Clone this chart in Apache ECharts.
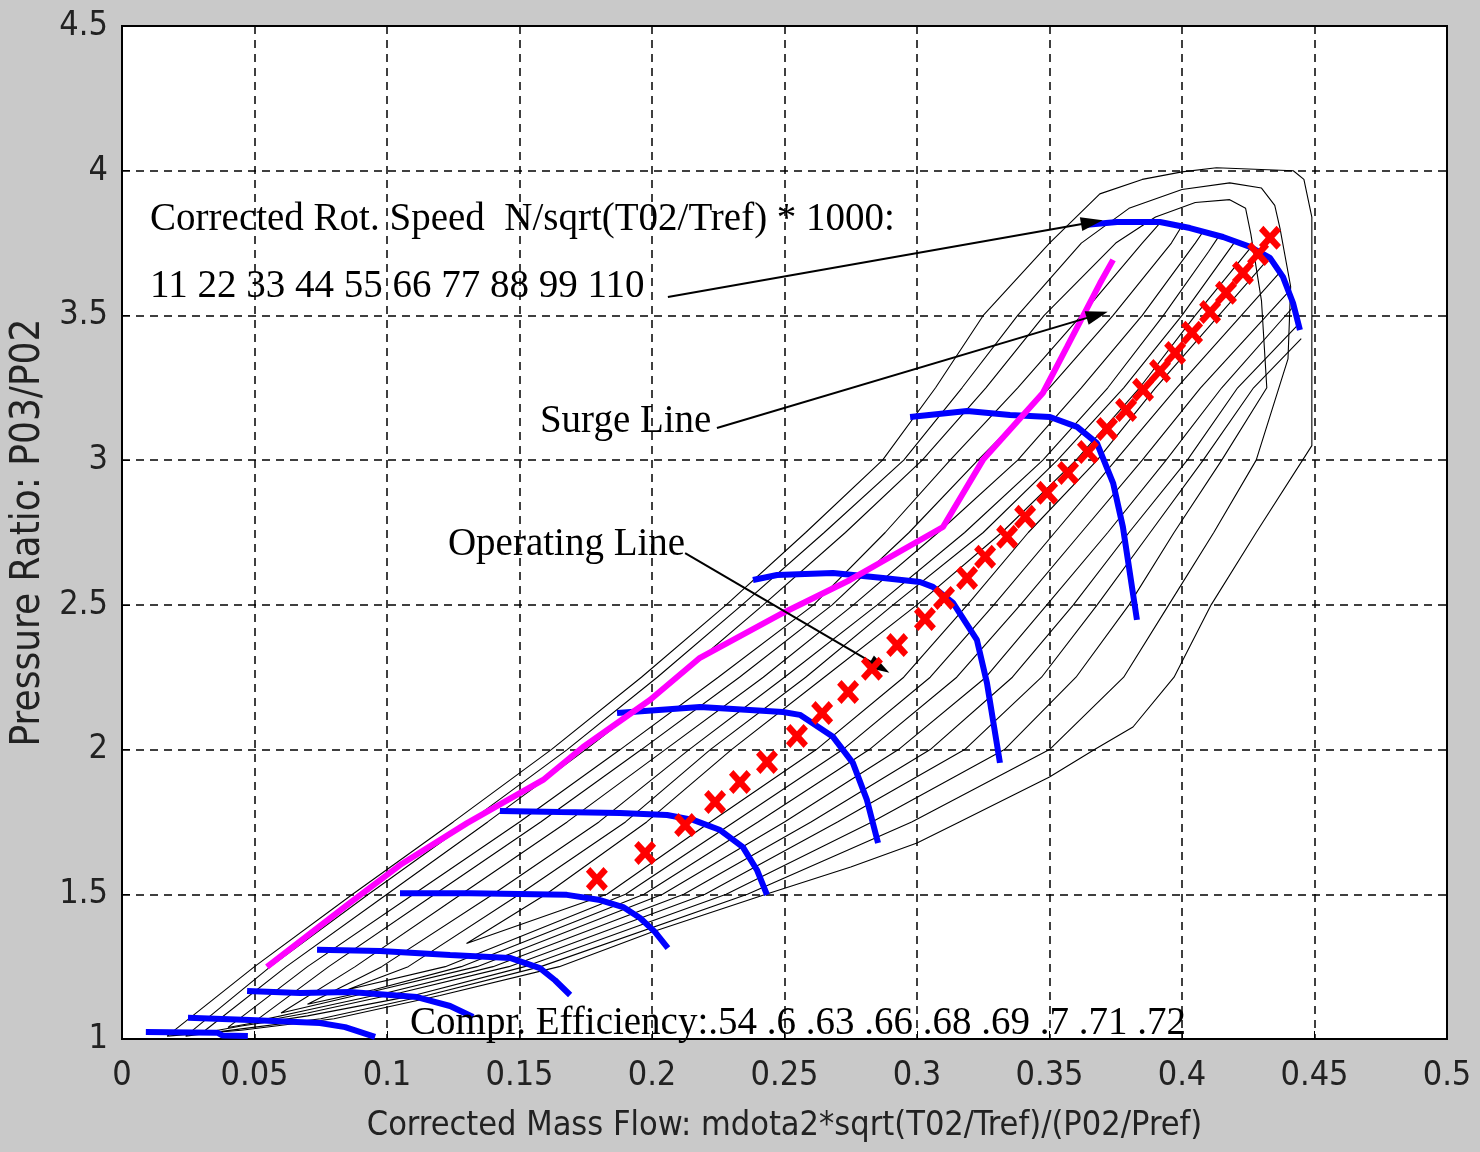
<!DOCTYPE html>
<html><head><meta charset="utf-8">
<script src="https://cdn.jsdelivr.net/npm/echarts/dist/echarts.min.js"></script>
<style>html,body{margin:0;padding:0;background:#c9c9c9;}#c{width:1480px;height:1152px;}</style>
</head><body><div id="c"></div>
<script>
// ---- axis ticks ----
const xTickLabels = ['0','0.05','0.1','0.15','0.2','0.25','0.3','0.35','0.4','0.45','0.5'];
const yTickLabels = ['1','1.5','2','2.5','3','3.5','4','4.5'];

// ---- constant-speed lines (blue) ----
const speed11  = [[0.009,1.024],[0.036,1.022],[0.038,1.012],[0.0475,1.01]];
const speed22  = [[0.0249,1.073],[0.0483,1.066],[0.0747,1.055],[0.0842,1.041],[0.0955,1.007]];
const speed33  = [[0.0472,1.166],[0.0672,1.159],[0.086,1.162],[0.1113,1.145],[0.1238,1.114],[0.1325,1.076]];
const speed44  = [[0.0736,1.308],[0.0974,1.304],[0.1238,1.29],[0.1464,1.28],[0.1577,1.245],[0.1634,1.203],[0.1691,1.152]];
const speed55  = [[0.1049,1.504],[0.1313,1.504],[0.1679,1.498],[0.1804,1.48],[0.1891,1.456],[0.1955,1.418],[0.2011,1.37],[0.206,1.314]];
const speed66  = [[0.1426,1.788],[0.1653,1.784],[0.1879,1.781],[0.2057,1.774],[0.2155,1.757],[0.2257,1.722],[0.2343,1.663],[0.2396,1.584],[0.2434,1.498]];
const speed77  = [[0.1868,2.126],[0.2181,2.147],[0.2494,2.13],[0.2558,2.12],[0.2683,2.044],[0.2758,1.954],[0.2811,1.826],[0.2853,1.677]];
const speed88  = [[0.2381,2.586],[0.2472,2.603],[0.2683,2.61],[0.2872,2.593],[0.3011,2.579],[0.306,2.562],[0.3136,2.507],[0.3226,2.379],[0.3264,2.23],[0.3313,1.954]];
const speed99  = [[0.2974,3.149],[0.3189,3.17],[0.3351,3.156],[0.3502,3.149],[0.3604,3.115],[0.3679,3.059],[0.374,2.921],[0.3777,2.769],[0.383,2.448]];
const speed110 = [[0.3642,3.813],[0.3755,3.823],[0.3917,3.823],[0.403,3.802],[0.4155,3.771],[0.4257,3.737],[0.4332,3.699],[0.4381,3.633],[0.4419,3.543],[0.4445,3.45]];

// ---- surge line (magenta) ----
const surgeLine = [[0.0547,1.249],[0.086,1.47],[0.1049,1.601],[0.1302,1.746],[0.1589,1.895],[0.174,2.009],[0.1992,2.171],[0.2181,2.317],[0.2494,2.472],[0.2747,2.586],[0.3098,2.769],[0.3249,3.001],[0.3475,3.232],[0.3566,3.391],[0.3691,3.612],[0.374,3.692]];

// ---- operating line (red x markers) ----
const operatingLine = [[0.1792,1.553],[0.1974,1.643],[0.2125,1.739],[0.2238,1.819],[0.2332,1.888],[0.2434,1.957],[0.2547,2.047],[0.2642,2.126],[0.274,2.199],[0.283,2.279],[0.2925,2.361],[0.303,2.451],[0.3102,2.524],[0.3189,2.593],[0.3257,2.666],[0.334,2.735],[0.3408,2.804],[0.3491,2.887],[0.357,2.956],[0.3645,3.028],[0.3717,3.108],[0.3789,3.173],[0.3853,3.243],[0.3917,3.308],[0.3974,3.37],[0.4038,3.44],[0.4106,3.512],[0.4166,3.578],[0.423,3.647],[0.4287,3.712],[0.4332,3.768]];

// ---- efficiency contours (black) ----
const eff054 = [[0.017,1.01],[0.05,1.25],[0.087,1.5],[0.125,1.75],[0.162,2.0],[0.196,2.25],[0.228,2.5],[0.258,2.75],[0.287,3.0],[0.307,3.25],[0.325,3.5],[0.35,3.75],[0.369,3.92],[0.385,3.97],[0.4,3.996],[0.413,4.01],[0.442,4.0],[0.446,3.97],[0.449,3.84],[0.449,3.05],[0.428,2.75],[0.411,2.5],[0.397,2.25],[0.3815,2.078],[0.367,2.0],[0.35,1.905],[0.316,1.75],[0.3,1.677],[0.275,1.594],[0.243,1.5],[0.2,1.37],[0.165,1.25],[0.12,1.15],[0.08,1.07],[0.045,1.03],[0.017,1.01]];
const eff060 = [[0.024,1.01],[0.056,1.25],[0.093,1.5],[0.131,1.75],[0.168,2.0],[0.202,2.25],[0.234,2.5],[0.265,2.75],[0.295,3.0],[0.317,3.25],[0.338,3.5],[0.362,3.75],[0.38,3.87],[0.4,3.935],[0.418,3.958],[0.43,3.94],[0.435,3.88],[0.437,3.8],[0.441,3.6],[0.44,3.35],[0.428,3.0],[0.412,2.75],[0.395,2.5],[0.378,2.25],[0.35,2.0],[0.298,1.75],[0.236,1.5],[0.158,1.25],[0.115,1.15],[0.075,1.07],[0.045,1.035],[0.024,1.01]];
const eff063 = [[0.03,1.02],[0.062,1.25],[0.1,1.5],[0.138,1.75],[0.175,2.0],[0.21,2.25],[0.242,2.5],[0.273,2.75],[0.302,3.0],[0.326,3.25],[0.348,3.5],[0.375,3.75],[0.39,3.84],[0.405,3.89],[0.418,3.9],[0.424,3.87],[0.426,3.78],[0.43,3.55],[0.432,3.25],[0.415,3.0],[0.397,2.75],[0.38,2.5],[0.36,2.25],[0.333,2.0],[0.283,1.75],[0.228,1.5],[0.152,1.25],[0.11,1.15],[0.07,1.08],[0.045,1.045],[0.03,1.02]];
const eff066 = [[0.392,3.822],[0.385,3.75],[0.362,3.5],[0.338,3.25],[0.3125,3.0],[0.288,2.75],[0.261,2.5],[0.225,2.25],[0.188,2.0],[0.15,1.75],[0.11,1.5],[0.07,1.25],[0.04,1.04],[0.07,1.09],[0.105,1.16],[0.146,1.25],[0.22,1.5],[0.27,1.75],[0.318,2.0],[0.347,2.25],[0.368,2.5],[0.388,2.75],[0.408,3.0],[0.427,3.25],[0.445,3.42]];
const eff068 = [[0.4,3.81],[0.396,3.75],[0.374,3.5],[0.35,3.25],[0.323,3.0],[0.297,2.75],[0.268,2.5],[0.233,2.25],[0.196,2.0],[0.158,1.75],[0.118,1.5],[0.078,1.25],[0.05,1.06],[0.07,1.1],[0.1,1.16],[0.14,1.25],[0.212,1.5],[0.26,1.75],[0.305,2.0],[0.336,2.25],[0.359,2.5],[0.38,2.75],[0.402,3.0],[0.421,3.25],[0.444,3.47]];
const eff069 = [[0.408,3.79],[0.405,3.75],[0.385,3.5],[0.362,3.25],[0.338,3.0],[0.308,2.75],[0.276,2.5],[0.242,2.25],[0.205,2.0],[0.168,1.75],[0.128,1.5],[0.088,1.25],[0.06,1.09],[0.095,1.165],[0.134,1.25],[0.204,1.5],[0.25,1.75],[0.293,2.0],[0.326,2.25],[0.349,2.5],[0.372,2.75],[0.394,3.0],[0.415,3.25],[0.442,3.53]];
const eff070 = [[0.414,3.775],[0.41,3.72],[0.393,3.5],[0.372,3.25],[0.3475,3.0],[0.318,2.75],[0.285,2.5],[0.25,2.25],[0.214,2.0],[0.18,1.75],[0.14,1.5],[0.098,1.25],[0.07,1.12],[0.095,1.17],[0.128,1.25],[0.197,1.5],[0.24,1.75],[0.282,2.0],[0.315,2.25],[0.339,2.5],[0.362,2.75],[0.385,3.0],[0.407,3.25],[0.44,3.58]];
const eff071 = [[0.42,3.755],[0.4,3.5],[0.378,3.25],[0.353,3.0],[0.325,2.75],[0.291,2.5],[0.258,2.25],[0.222,2.0],[0.19,1.75],[0.15,1.5],[0.108,1.25],[0.085,1.17],[0.122,1.25],[0.19,1.5],[0.231,1.75],[0.272,2.0],[0.305,2.25],[0.329,2.5],[0.352,2.75],[0.375,3.0],[0.398,3.25],[0.437,3.65]];
const eff072 = [[0.426,3.735],[0.405,3.5],[0.384,3.25],[0.36,3.0],[0.332,2.75],[0.3,2.5],[0.265,2.25],[0.23,2.0],[0.198,1.75],[0.16,1.5],[0.13,1.33],[0.183,1.5],[0.222,1.75],[0.262,2.0],[0.295,2.25],[0.319,2.5],[0.342,2.75],[0.368,3.0],[0.39,3.25],[0.433,3.7]];

// ---- annotation arrows (data coords: from, to) ----
const arrowSpeed     = [[0.206,3.564],[0.366,3.822]];
const arrowSurge     = [[0.2245,3.111],[0.368,3.502]];
const arrowOperating = [[0.2125,2.679],[0.286,2.285]];

// ---- annotation texts ----
const texts = [
  {t:'Corrected Rot. Speed  N/sqrt(T02/Tref) * 1000:', at:[0.0106,3.83]},
  {t:'11 22 33 44 55 66 77 88 99 110', at:[0.0106,3.598]},
  {t:'Surge Line', at:[0.1577,3.132]},
  {t:'Operating Line', at:[0.123,2.707]},
  {t:'Compr. Efficiency:.54 .6 .63 .66 .68 .69 .7 .71 .72', at:[0.1087,1.052]}
];

const sans = '"Liberation Sans Narrow","DejaVu Sans Condensed","Liberation Sans",sans-serif';
const serif = '"Liberation Serif","DejaVu Serif",serif';

const chart = echarts.init(document.getElementById('c'), null, {renderer:'canvas'});
const contours = [eff054,eff060,eff063,eff066,eff068,eff069,eff070,eff071,eff072];
const speeds = [speed11,speed22,speed33,speed44,speed55,speed66,speed77,speed88,speed99,speed110];
const series = [];
contours.forEach(d => series.push({type:'line', data:d, symbol:'none', silent:true, z:2,
  lineStyle:{color:'#000', width:1.1}}));
speeds.forEach(d => series.push({type:'line', data:d, symbol:'none', silent:true, z:3,
  lineStyle:{color:'#0000ff', width:6}}));
series.push({type:'line', data:surgeLine, symbol:'none', silent:true, z:4,
  lineStyle:{color:'#ff00ff', width:6}});
series.push({type:'scatter', data:operatingLine, z:5, silent:true,
  symbol:'path://M0,4 L4,0 L10,6 L16,0 L20,4 L14,10 L20,16 L16,20 L10,14 L4,20 L0,16 L6,10 Z',
  symbolSize:[22,24], itemStyle:{color:'#ff0000', opacity:1}});
series.push({type:'line', data:[], z:6, silent:true,
  markLine:{silent:true, symbol:['none','triangle'], symbolSize:[14,22], animation:false,
    label:{show:false}, lineStyle:{color:'#000', width:2, type:'solid'},
    itemStyle:{color:'#000'},
    data:[arrowSpeed,arrowSurge,arrowOperating].map(a => [{coord:a[0]},{coord:a[1]}])}});

const xt = v => { const i = Math.round(v/0.05); return xTickLabels[i] !== undefined ? xTickLabels[i] : ''; };
const yt = v => { const i = Math.round((v-1)/0.5); return yTickLabels[i] !== undefined ? yTickLabels[i] : ''; };

chart.setOption({
  animation:false,
  backgroundColor:'#c9c9c9',
  grid:{left:122, right:33, top:26, bottom:113, show:true, backgroundColor:'#fff', borderColor:'#000', borderWidth:2},
  xAxis:{type:'value', min:0, max:0.5, interval:0.05,
    name:'Corrected Mass Flow: mdota2*sqrt(T02/Tref)/(P02/Pref)', nameLocation:'middle', nameGap:70,
    nameTextStyle:{fontFamily:sans, fontSize:34, color:'#222'},
    axisLine:{show:false}, axisTick:{inside:true, length:8, lineStyle:{color:'#000'}},
    axisLabel:{formatter:xt, fontFamily:sans, fontSize:34, color:'#222', margin:20},
    splitLine:{show:true, lineStyle:{color:'#000', type:[8,6], width:1.5}}},
  yAxis:{type:'value', min:1, max:4.5, interval:0.5,
    name:'Pressure Ratio: P03/P02', nameLocation:'middle', nameGap:55,
    nameTextStyle:{fontFamily:sans, fontSize:40, color:'#222'},
    axisLine:{show:false}, axisTick:{inside:true, length:8, lineStyle:{color:'#000'}},
    axisLabel:{formatter:yt, fontFamily:sans, fontSize:34, color:'#222', margin:14},
    splitLine:{show:true, lineStyle:{color:'#000', type:[8,6], width:1.5}}},
  series:series
});

chart.setOption({graphic: texts.map(o => {
  const p = chart.convertToPixel({gridIndex:0}, o.at);
  return {type:'text', x:p[0], y:p[1], z:100, silent:true,
    style:{text:o.t, fill:'#000', font:'39px ' + serif, textVerticalAlign:'middle', verticalAlign:'middle', align:'left'}};
})});
</script></body></html>
